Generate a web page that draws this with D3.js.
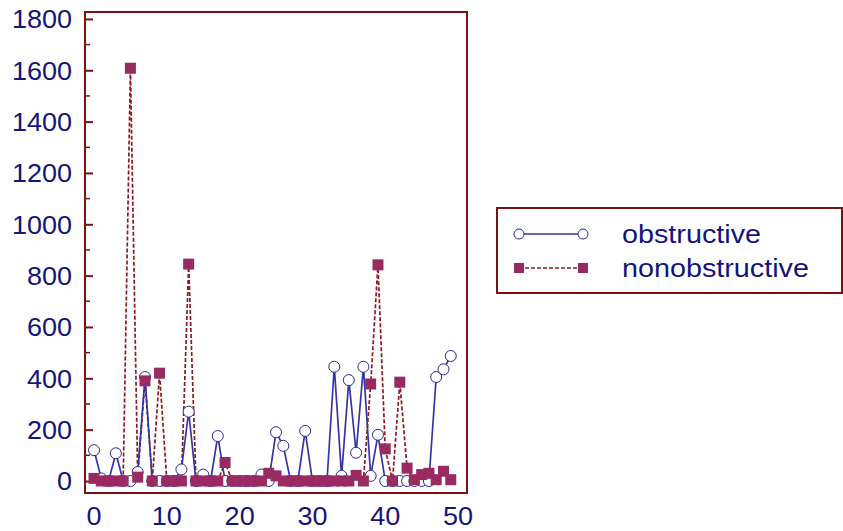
<!DOCTYPE html>
<html>
<head>
<meta charset="utf-8">
<script src="https://cdn.jsdelivr.net/npm/d3@7"></script>
<style>
  body { margin: 0; background: #fff; }
  text { font-family: Arial, "Liberation Sans", sans-serif; }
</style>
</head>
<body>
<div id="chart"></div>
<script>
const xs = d3.range(0, 50);
const obstructive = [120, 10, 0, 108, 0, 0, 35, 405, 0, 0,
  0, 0, 45, 270, 0, 25, 0, 175, 0, 0,
  0, 0, 0, 25, 0, 190, 137, 0, 0, 195,
  0, 0, 0, 445, 20, 393, 110, 445, 20, 180,
  0, 0, 0, 0, 0, 0, 0, 405, 435, 487];
const nonobstructive = [10, 0, 0, 0, 0, 1608, 15, 390, 0, 420,
  0, 0, 0, 845, 0, 0, 0, 0, 72, 0,
  0, 0, 0, 0, 30, 20, 0, 0, 0, 0,
  0, 0, 0, 0, 0, 0, 22, 0, 378, 842,
  125, 0, 385, 50, 5, 25, 30, 5, 38, 5];
const xTicks = [0, 10, 20, 30, 40, 50];
const yTicks = d3.range(0, 1801, 200);
const yMinor = d3.range(100, 1800, 200);
const seriesNames = ["obstructive", "nonobstructive"];

const width = 843, height = 531;
const frame = { left: 85, right: 467, top: 12, bottom: 493 };
const axisColor = "#7a1214";
const textColor = "#14147a";
const obsColor = "#3535a5";
const nonColor = "#9a2a62";
const nonLine = "#8a1a22";

const svg = d3.select("#chart").append("svg")
  .attr("width", width).attr("height", height);

const x = d3.scaleLinear().domain([-1.24, 51.23]).range([frame.left, frame.right]);
const y = d3.scaleLinear().domain([-46.8, 1827]).range([frame.bottom, frame.top]);

// frame
svg.append("rect")
  .attr("x", frame.left).attr("y", frame.top)
  .attr("width", frame.right - frame.left).attr("height", frame.bottom - frame.top)
  .attr("fill", "none").attr("stroke", axisColor).attr("stroke-width", 2);

// y axis, ticks pointing inward
const yAxis = svg.append("g").attr("transform", `translate(${frame.left},0)`)
  .call(d3.axisRight(y).tickValues(yTicks).tickSize(8).tickFormat(""));
yAxis.select(".domain").remove();
yAxis.selectAll("line").attr("stroke", axisColor).attr("stroke-width", 2);

svg.append("g").selectAll("line").data(yMinor).join("line")
  .attr("x1", frame.left).attr("x2", frame.left + 5)
  .attr("y1", d => y(d)).attr("y2", d => y(d))
  .attr("stroke", axisColor).attr("stroke-width", 1.5);

svg.append("g").selectAll("text").data(yTicks).join("text")
  .attr("text-anchor", "end")
  .attr("transform", d => `translate(72,${y(d) + 9.5}) scale(1.06,1)`)
  .attr("font-size", 25.5).attr("fill", textColor)
  .text(d => d);

svg.append("g").selectAll("text").data(xTicks).join("text")
  .attr("text-anchor", "middle")
  .attr("transform", d => `translate(${x(d)},525) scale(1.06,1)`)
  .attr("font-size", 25.5).attr("fill", textColor)
  .text(d => d);

const plot = svg.append("g");

const line = d3.line().x((d, i) => x(xs[i])).y(d => y(d));

// nonobstructive: dashed line + squares
plot.append("path").datum(nonobstructive)
  .attr("d", line).attr("fill", "none")
  .attr("stroke", nonLine).attr("stroke-width", 1.7)
  .attr("stroke-dasharray", "4,2");

// obstructive: solid line + open circles
plot.append("path").datum(obstructive)
  .attr("d", line).attr("fill", "none")
  .attr("stroke", obsColor).attr("stroke-width", 1.7);

plot.append("g").selectAll("circle").data(obstructive).join("circle")
  .attr("cx", (d, i) => x(xs[i])).attr("cy", d => y(d)).attr("r", 5.5)
  .attr("fill", "#fff").attr("stroke", "#2a2a90").attr("stroke-width", 1);

plot.append("g").selectAll("rect").data(nonobstructive).join("rect")
  .attr("x", (d, i) => x(xs[i]) - 5.5).attr("y", d => y(d) - 5.5)
  .attr("width", 11).attr("height", 11)
  .attr("fill", nonColor);

// legend
const legend = svg.append("g");
legend.append("rect")
  .attr("x", 497).attr("y", 208).attr("width", 345).attr("height", 85)
  .attr("fill", "#fff").attr("stroke", axisColor).attr("stroke-width", 2);

const rowY = [234, 268];
legend.append("line").attr("x1", 519).attr("x2", 583).attr("y1", rowY[0]).attr("y2", rowY[0])
  .attr("stroke", obsColor).attr("stroke-width", 1.4);
legend.selectAll("circle.lg").data([519, 583]).join("circle")
  .attr("class", "lg").attr("cx", d => d).attr("cy", rowY[0]).attr("r", 5)
  .attr("fill", "#fff").attr("stroke", "#2a2a90").attr("stroke-width", 1);
legend.append("line").attr("x1", 519).attr("x2", 583).attr("y1", rowY[1]).attr("y2", rowY[1])
  .attr("stroke", nonLine).attr("stroke-width", 1.4).attr("stroke-dasharray", "4,2");
legend.selectAll("rect.lg").data([519, 583]).join("rect")
  .attr("class", "lg").attr("x", d => d - 5).attr("y", rowY[1] - 5)
  .attr("width", 10).attr("height", 10).attr("fill", nonColor);

legend.selectAll("text").data(seriesNames).join("text")
  .attr("transform", (d, i) => `translate(622,${rowY[i] + 8.5}) scale(1.15,1)`)
  .attr("font-size", 25).attr("fill", textColor)
  .text(d => d);
</script>
</body>
</html>
